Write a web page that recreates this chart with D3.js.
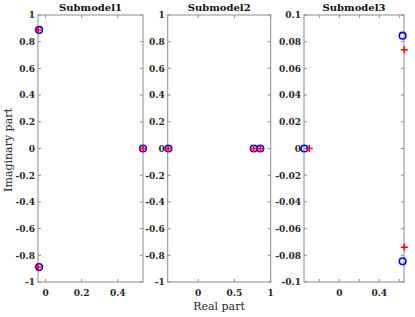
<!DOCTYPE html>
<html><head><meta charset="utf-8">
<script src="https://cdn.jsdelivr.net/npm/d3@7"></script>
<style>body{margin:0;background:#fff}svg{display:block}</style>
</head><body>
<svg id="c" width="415" height="317"></svg>
<script>
const titles = ["Submodel1", "Submodel2", "Submodel3"];
// blue circles (x, y)
const circ1X = [-0.036, -0.036, 0.54];
const circ1Y = [0.888, -0.888, 0];
const circ2X = [-0.41, 0.765, 0.857];
const circ2Y = [0, 0, 0];
const circ3X = [-0.35, 0.633, 0.633];
const circ3Y = [0, 0.0845, -0.0845];
// red pluses (x, y)
const plus1X = [-0.042, -0.042, 0.54];
const plus1Y = [0.888, -0.888, 0];
const plus2X = [-0.41, 0.765, 0.857];
const plus2Y = [0, 0, 0];
const plus3X = [-0.30, 0.65, 0.65];
const plus3Y = [0, 0.074, -0.074];
// axis limits
const xDom1 = [-0.042, 0.54], xDom2 = [-0.42, 1], xDom3 = [-0.353, 0.647];
const yDom1 = [-1, 1], yDom2 = [-1, 1], yDom3 = [-0.1, 0.1];
// ticks
const xTicks1 = [0, 0.2, 0.4], xLabels1 = ["0", "0.2", "0.4"];
const xTicks2 = [0, 0.5, 1], xLabels2 = ["0", "0.5", "1"];
const xTicks3 = [-0.2, 0, 0.2, 0.4, 0.6], xLabels3 = ["", "0", "", "0.4", ""];
const yTicks1 = [-1,-0.8,-0.6,-0.4,-0.2,0,0.2,0.4,0.6,0.8,1];
const yLabels1 = ["-1","-0.8","-0.6","-0.4","-0.2","0","0.2","0.4","0.6","0.8","1"];
const yTicks3 = [-0.1,-0.08,-0.06,-0.04,-0.02,0,0.02,0.04,0.06,0.08,0.1];
const yLabels3 = ["-0.1","-0.08","-0.06","-0.04","-0.02","0","0.02","0.04","0.06","0.08","0.1"];
const xLabel = "Real part", yLabel = "Imaginary part";

const panels = [
  {L:38, R:143, xd:xDom1, yd:yDom1, cx:circ1X, cy:circ1Y, px:plus1X, py:plus1Y, xt:xTicks1, xl:xLabels1, yt:yTicks1, yl:yLabels1},
  {L:167.7, R:270.7, xd:xDom2, yd:yDom2, cx:circ2X, cy:circ2Y, px:plus2X, py:plus2Y, xt:xTicks2, xl:xLabels2, yt:yTicks1, yl:yLabels1},
  {L:304, R:404, xd:xDom3, yd:yDom3, cx:circ3X, cy:circ3Y, px:plus3X, py:plus3Y, xt:xTicks3, xl:xLabels3, yt:yTicks3, yl:yLabels3}
];
const T = 15, B = 282, tick = 3;
const svg = d3.select("#c");
const font = "'DejaVu Serif','Liberation Serif',serif";
const axCol = "#8c8c8c";

panels.forEach((p, i) => {
  const x = d3.scaleLinear().domain(p.xd).range([p.L, p.R]);
  const y = d3.scaleLinear().domain(p.yd).range([B, T]);
  const g = svg.append("g");
  g.append("rect").attr("x", p.L).attr("y", T).attr("width", p.R - p.L).attr("height", B - T)
    .attr("fill", "none").attr("stroke", axCol).attr("stroke-width", 1);
  p.xt.forEach((v, k) => {
    const xx = x(v);
    g.append("line").attr("x1", xx).attr("x2", xx).attr("y1", B).attr("y2", B - tick).attr("stroke", axCol);
    g.append("line").attr("x1", xx).attr("x2", xx).attr("y1", T).attr("y2", T + tick).attr("stroke", axCol);
    if (p.xl[k]) g.append("text").attr("x", xx).attr("y", 296).attr("text-anchor", "middle")
      .attr("font-family", font).attr("font-weight", "bold").attr("font-size", 9).attr("fill", "#262626").text(p.xl[k]);
  });
  p.yt.forEach((v, k) => {
    const yy = y(v);
    g.append("line").attr("x1", p.L).attr("x2", p.L + tick).attr("y1", yy).attr("y2", yy).attr("stroke", axCol);
    g.append("line").attr("x1", p.R).attr("x2", p.R - tick).attr("y1", yy).attr("y2", yy).attr("stroke", axCol);
    g.append("text").attr("x", p.L - 3).attr("y", yy + 3.3).attr("text-anchor", "end")
      .attr("font-family", font).attr("font-weight", "bold").attr("font-size", 9).attr("fill", "#262626").text(p.yl[k]);
  });
  g.append("text").attr("x", (p.L + p.R) / 2).attr("y", 11).attr("text-anchor", "middle")
    .attr("font-family", font).attr("font-weight", "bold").attr("font-size", 10).attr("fill", "#111").text(titles[i]);
  p.cx.forEach((v, k) => {
    g.append("circle").attr("cx", x(v)).attr("cy", y(p.cy[k])).attr("r", 3.3)
      .attr("fill", "none").attr("stroke", "#0000ff").attr("stroke-width", 1.6);
  });
  p.px.forEach((v, k) => {
    const xx = x(v), yy = y(p.py[k]), s = 3.5;
    g.append("path").attr("d", `M${xx - s},${yy}H${xx + s}M${xx},${yy - s}V${yy + s}`)
      .attr("stroke", "#ff0000").attr("stroke-width", 1.6).attr("fill", "none");
  });
});

svg.append("text").attr("x", 219).attr("y", 310).attr("text-anchor", "middle")
  .attr("font-family", font).attr("font-size", 11).attr("fill", "#262626").text(xLabel);
svg.append("text").attr("transform", "translate(12,150) rotate(-90)").attr("text-anchor", "middle")
  .attr("font-family", font).attr("font-size", 11).attr("fill", "#262626").text(yLabel);
</script>
</body></html>
